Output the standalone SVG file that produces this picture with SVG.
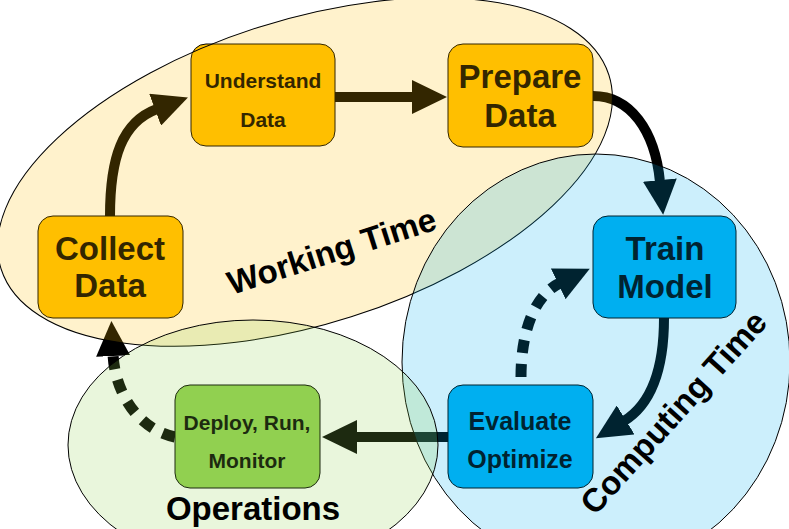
<svg xmlns="http://www.w3.org/2000/svg" width="789" height="529" viewBox="0 0 789 529">
<style>
.box{stroke:#000;stroke-width:1}
.orange{fill:#FFC000}
.blue{fill:#00B0F0}
.green{fill:#92D050}
text{font-family:"Liberation Sans",Arial,sans-serif;font-weight:bold;fill:#000;text-anchor:middle}
.big{font-size:33px}
.mid{font-size:25px}
.small{font-size:21px}
.label{font-size:33px}
.arrow{fill:none;stroke:#000;stroke-width:10}
.dash{fill:none;stroke:#000;stroke-width:11;stroke-dasharray:13 11}
.region{stroke:#000;stroke-width:1;fill-opacity:0.2}
</style>
<defs>
<marker id="head" viewBox="0 0 35 34" markerUnits="userSpaceOnUse" markerWidth="35" markerHeight="34" refX="2" refY="17" orient="auto">
<path d="M0,0 L35,17 L0,34 Z" fill="#000"/>
</marker>
</defs>
<g id="connectors">
<path class="arrow" d="M110,216 C110,158 122,122 157,109" marker-end="url(#head)"/>
<path class="arrow" d="M335,97 L414,97" marker-end="url(#head)"/>
<path class="arrow" d="M593,96 C630,96 655,130 660,182" marker-end="url(#head)"/>
<path class="arrow" d="M664,318 C664,370 650,405 624,421" marker-end="url(#head)"/>
<path class="dash" d="M521,377 C521,330 535,295 560,283" marker-end="url(#head)"/>
<path class="arrow" d="M448,437 L355,437" marker-end="url(#head)"/>
<path class="dash" d="M175,437 C140,430 115,395 113,354" marker-end="url(#head)"/>
</g>
<g id="collect">
<rect class="box orange" x="38" y="216" width="145" height="102" rx="15"/>
<text class="big" x="110" y="260">Collect</text>
<text class="big" x="110" y="297">Data</text>
</g>
<g id="understand">
<rect class="box orange" x="191" y="44" width="144" height="102" rx="15"/>
<text class="small" x="263" y="88">Understand</text>
<text class="small" x="263" y="127">Data</text>
</g>
<g id="prepare">
<rect class="box orange" x="448" y="44" width="145" height="103" rx="15"/>
<text class="big" x="520" y="88">Prepare</text>
<text class="big" x="520" y="127">Data</text>
</g>
<g id="train">
<rect class="box blue" x="593" y="216" width="143" height="102" rx="15"/>
<text class="big" x="665" y="260">Train</text>
<text class="big" x="665" y="298">Model</text>
</g>
<g id="evaluate">
<rect class="box blue" x="448" y="385" width="145" height="103" rx="15"/>
<text class="mid" x="520" y="430">Evaluate</text>
<text class="mid" x="520" y="468">Optimize</text>
</g>
<g id="deploy">
<rect class="box green" x="175" y="385" width="145" height="103" rx="15"/>
<text class="small" x="247" y="430">Deploy, Run,</text>
<text class="small" x="247" y="468">Monitor</text>
</g>
<g id="regions">
<ellipse class="region orange" cx="305" cy="172" rx="319" ry="152" transform="rotate(-17.7 305 172)"/>
<ellipse class="region blue" cx="596" cy="362" rx="194" ry="208"/>
<ellipse class="region green" cx="253" cy="445" rx="185" ry="125"/>
</g>
<g id="region-labels">
<text class="label" transform="translate(335,262) rotate(-17.7)">Working Time</text>
<text class="label" transform="translate(682,420) rotate(-48)">Computing Time</text>
<text class="label" x="253" y="520">Operations</text>
</g>
</svg>
